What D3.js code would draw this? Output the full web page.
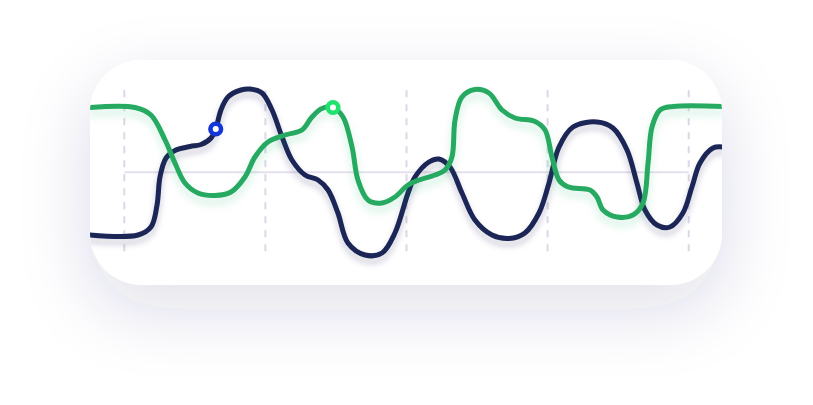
<!DOCTYPE html>
<html>
<head>
<meta charset="utf-8">
<script src="https://cdn.jsdelivr.net/npm/d3@7"></script>
<style>
  html, body { margin: 0; padding: 0; background: #ffffff; }
  svg { display: block; }
</style>
</head>
<body>
<div id="chart"></div>
<script>
// x in time units (grid every 10), y relative to the centre line
const gridTicks = [0, 10, 20, 30, 40];

const navyX = [-2.43, 0.97, 1.89, 2.32, 2.53, 2.96, 3.66, 4.66, 5.44, 6.15, 6.48, 6.85, 7.35, 8.27, 8.91, 9.76, 10.47, 11.18, 11.88, 12.81, 13.73, 14.44, 15.14, 15.85, 17.06, 18.26, 19.18, 20.11, 20.6, 21.59, 22.3, 23.08, 23.93, 24.85, 26.06, 27.26, 28.39, 29.39, 30.1, 30.81, 31.8, 33.5, 34.63, 35.63, 36.33, 36.9, 37.75, 38.67, 39.59, 40.23, 40.8, 41.72, 42.43];
const navyY = [-62.7, -62.7, -54.7, -32.7, -4.7, 14.3, 22.3, 25.8, 27.8, 34.3, 43.3, 62.3, 75.3, 82.3, 83.3, 79.3, 62.3, 35.3, 12.3, -2.7, -7.7, -17.7, -40.7, -70.7, -82.7, -80.7, -60.7, -20.7, -4.7, 10.3, 13.3, 5.3, -20.7, -47.7, -62.7, -66.2, -60.7, -40.7, -10.7, 25.3, 45.3, 50.3, 44.3, 22.3, -10.7, -37.7, -52.7, -54.7, -40.7, -14.7, 9.3, 24.3, 25.3];

const greenX = [-2.43, 0.76, 1.89, 2.89, 3.59, 4.3, 5.22, 6.43, 7.56, 8.55, 9.26, 10.18, 11.39, 12.59, 13.3, 14.01, 14.79, 15.5, 16.14, 16.56, 17.27, 18.26, 19.18, 20.11, 20.89, 22.02, 22.73, 23.22, 23.44, 23.93, 24.85, 25.84, 26.77, 27.69, 29.11, 29.82, 30.31, 30.81, 31.38, 31.8, 33.0, 33.5, 33.93, 34.92, 36.05, 36.76, 37.12, 37.4, 37.97, 38.89, 42.43];
const greenY = [64.8, 64.8, 57.3, 32.3, 9.3, -10.7, -20.7, -23.2, -19.7, -4.7, 15.3, 30.3, 37.3, 42.3, 55.3, 63.8, 64.8, 55.3, 25.3, -7.7, -27.7, -30.7, -24.7, -12.7, -7.7, -2.7, 2.3, 15.3, 52.3, 75.3, 82.8, 79.3, 62.3, 54.3, 50.8, 42.3, 15.3, -7.7, -14.2, -15.7, -17.7, -24.7, -37.7, -44.7, -42.7, -30.7, 9.3, 45.3, 62.3, 65.8, 65.8];

const navyMarker = { x: 6.48, y: 43.3 };
const greenMarker = { x: 14.79, y: 64.8 };

const W = 813, H = 405;
const card = { x: 90, y: 60, w: 632, h: 225, r: 52 };

const svg = d3.select("#chart").append("svg")
    .attr("width", W)
    .attr("height", H);

const defs = svg.append("defs");

// sombra do cartao
const cardShadow = defs.append("filter").attr("id", "cardShadow")
    .attr("x", "-30%").attr("y", "-50%").attr("width", "160%").attr("height", "220%");
cardShadow.append("feDropShadow")
    .attr("dx", 0).attr("dy", 24).attr("stdDeviation", 34)
    .attr("flood-color", "#2b3170").attr("flood-opacity", 0.15);

const navyShadow = defs.append("filter").attr("id", "navyShadow")
    .attr("x", "-10%").attr("y", "-20%").attr("width", "120%").attr("height", "150%");
navyShadow.append("feDropShadow")
    .attr("dx", 0).attr("dy", 5).attr("stdDeviation", 3)
    .attr("flood-color", "#1d2655").attr("flood-opacity", 0.22);

const greenShadow = defs.append("filter").attr("id", "greenShadow")
    .attr("x", "-10%").attr("y", "-20%").attr("width", "120%").attr("height", "150%");
greenShadow.append("feDropShadow")
    .attr("dx", 0).attr("dy", 6).attr("stdDeviation", 4)
    .attr("flood-color", "#27ae60").attr("flood-opacity", 0.2);

defs.append("clipPath").attr("id", "cardClip")
    .append("rect")
    .attr("x", card.x).attr("y", card.y)
    .attr("width", card.w).attr("height", card.h)
    .attr("rx", card.r).attr("ry", card.r);

svg.append("rect")
    .attr("x", card.x).attr("y", card.y)
    .attr("width", card.w).attr("height", card.h)
    .attr("rx", card.r).attr("ry", card.r)
    .attr("fill", "#ffffff")
    .attr("filter", "url(#cardShadow)");

// Escalas
const x = d3.scaleLinear().domain([0, 40]).range([124.3, 688.7]);
const y = d3.scaleLinear().domain([-82, 82]).range([254.3, 90.3]);

const g = svg.append("g").attr("clip-path", "url(#cardClip)");

// grade vertical tracejada
g.selectAll(".vgrid")
    .data(gridTicks)
    .join("line")
    .attr("class", "vgrid")
    .attr("x1", d => x(d)).attr("x2", d => x(d))
    .attr("y1", y(82)).attr("y2", y(-82))
    .attr("stroke", "#dcd7e6")
    .attr("stroke-width", 2)
    .attr("stroke-dasharray", "7 7");

// linha central
g.append("line")
    .attr("x1", x(0)).attr("x2", x(40))
    .attr("y1", y(0)).attr("y2", y(0))
    .attr("stroke", "#e5e0ed")
    .attr("stroke-width", 2);

const line = d3.line()
    .x(d => x(d[0]))
    .y(d => y(d[1]))
    .curve(d3.curveCatmullRom.alpha(0.5));

const navyData = d3.zip(navyX, navyY);
const greenData = d3.zip(greenX, greenY);

g.append("path")
    .datum(navyData)
    .attr("d", line)
    .attr("fill", "none")
    .attr("stroke", "#1c2756")
    .attr("stroke-width", 5)
    .attr("stroke-linecap", "round")
    .attr("filter", "url(#navyShadow)");

g.append("path")
    .datum(greenData)
    .attr("d", line)
    .attr("fill", "none")
    .attr("stroke", "#27aa62")
    .attr("stroke-width", 5)
    .attr("stroke-linecap", "round")
    .attr("filter", "url(#greenShadow)");

// marcadores
g.append("circle")
    .attr("cx", x(navyMarker.x)).attr("cy", y(navyMarker.y))
    .attr("r", 5.3)
    .attr("fill", "#ffffff")
    .attr("stroke", "#1436d6")
    .attr("stroke-width", 4.6);

g.append("circle")
    .attr("cx", x(greenMarker.x)).attr("cy", y(greenMarker.y))
    .attr("r", 5.3)
    .attr("fill", "#ffffff")
    .attr("stroke", "#1ee36e")
    .attr("stroke-width", 4.6);
</script>
</body>
</html>
